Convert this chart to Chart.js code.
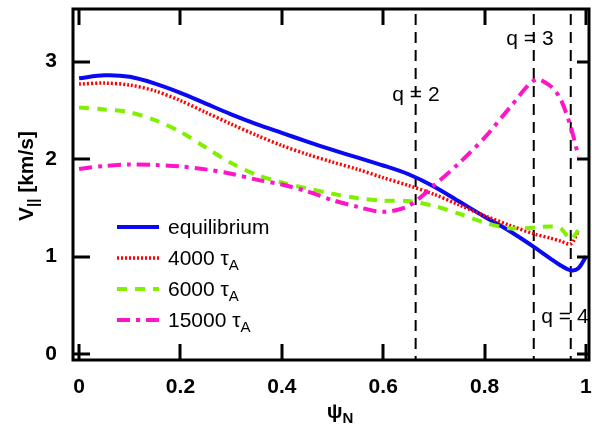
<!DOCTYPE html>
<html lang="en">
<head>
<meta charset="UTF-8" />
<title>Parallel flow profiles</title>
<style>
  html, body { margin: 0; padding: 0; background: #fff; }
  #wrap { width: 592px; height: 433px; }
</style>
</head>
<body>
<div id="wrap"><canvas id="vChart" width="592" height="433"></canvas></div>
<script src="https://cdn.jsdelivr.net/npm/chart.js"></script>
<script>
// normalised flux grid and parallel velocity profiles (km/s)
const psi = [0, 0.05, 0.1, 0.15, 0.2, 0.25, 0.3, 0.35, 0.4, 0.45, 0.5, 0.55,
             0.6, 0.65, 0.7, 0.75, 0.8, 0.85, 0.9, 0.93, 0.95, 0.97, 0.985, 1.0];
const vEquilibrium = [2.83, 2.86, 2.845, 2.775, 2.68, 2.57, 2.46, 2.36, 2.27, 2.18, 2.095, 2.015,
                      1.935, 1.845, 1.72, 1.565, 1.41, 1.26, 1.09, 0.98, 0.91, 0.86, 0.88, 1.0];
const v4000 = [2.77, 2.78, 2.76, 2.70, 2.60, 2.48, 2.36, 2.245, 2.14, 2.05, 1.97, 1.895,
               1.81, 1.73, 1.64, 1.53, 1.42, 1.32, 1.23, 1.19, 1.16, 1.13, 1.26, null];
const v6000 = [2.53, 2.51, 2.48, 2.40, 2.28, 2.12, 1.96, 1.84, 1.76, 1.70, 1.645, 1.60,
               1.575, 1.57, 1.52, 1.44, 1.35, 1.29, 1.30, 1.31, 1.29, 1.18, 1.27, null];
const v15000 = [1.90, 1.93, 1.945, 1.94, 1.925, 1.895, 1.85, 1.79, 1.74, 1.67, 1.58, 1.51,
                1.46, 1.52, 1.73, 1.96, 2.22, 2.53, 2.815, 2.75, 2.615, 2.33, 2.03, null];

// rational surfaces
const qSurfaces = [0.664, 0.897, 0.970];
const qNames = ['q = 2', 'q = 3', 'q = 4'];

const xTicks = [0, 0.2, 0.4, 0.6, 0.8, 1];
const yTicks = [0, 1, 2, 3];

const FONT = '"Liberation Sans", Arial, Helvetica, sans-serif';

function points(vals) {
  return psi.map((x, i) => ({ x: x, y: vals[i] })).filter(p => p.y !== null);
}

const styles = [
  { color: '#0a0af2', width: 4, dash: [] },
  { color: '#ff0000', width: 3.5, dash: [2, 2] },
  { color: '#80f000', width: 4, dash: [10, 8] },
  { color: '#ff14c8', width: 4, dash: [13, 6, 4, 6] }
];
const series = [vEquilibrium, v4000, v6000, v15000];
const names = [['equilibrium'], ['4000 ', 'A'], ['6000 ', 'A'], ['15000 ', 'A']];

const datasets = series.map((vals, i) => ({
  label: names[i][0].trim(),
  data: points(vals),
  borderColor: styles[i].color,
  borderWidth: styles[i].width,
  borderDash: styles[i].dash,
  borderCapStyle: 'butt',
  pointRadius: 0,
  fill: false,
  tension: 0.3,
  order: 4 - i
}));

// dashed verticals at the q surfaces, drawn top-down
qSurfaces.forEach(q => {
  datasets.push({
    label: 'q',
    data: [{ x: q, y: 3.49 }, { x: q, y: -0.06 }],
    borderColor: '#000',
    borderWidth: 2,
    borderDash: [11, 7],
    pointRadius: 0,
    fill: false,
    order: 10
  });
});

// writes a run of text pieces: [text, font, baseline shift]
function drawParts(ctx, parts, x, y, align) {
  let w = 0;
  parts.forEach(p => { ctx.font = p[1]; w += ctx.measureText(p[0]).width; });
  let cx = align === 'center' ? x - w / 2 : (align === 'right' ? x - w : x);
  ctx.textAlign = 'left';
  ctx.textBaseline = 'alphabetic';
  parts.forEach(p => {
    ctx.font = p[1];
    ctx.fillText(p[0], cx, y + (p[2] || 0));
    cx += ctx.measureText(p[0]).width;
  });
}

// fixed axis boxes, no extra room for edge labels
function fixBox(size, key) {
  return s => {
    s[key] = size;
    s.paddingTop = 0; s.paddingBottom = 0;
    s.paddingLeft = 0; s.paddingRight = 0;
  };
}

const framePlugin = {
  id: 'frame',
  afterDraw(chart) {
    const ctx = chart.ctx;
    const a = chart.chartArea;
    const xs = chart.scales.x, ys = chart.scales.y;
    ctx.save();
    ctx.strokeStyle = '#000';
    ctx.lineWidth = 3;
    ctx.setLineDash([]);
    ctx.strokeRect(a.left, a.top, a.right - a.left, a.bottom - a.top);
    ctx.beginPath();
    xTicks.forEach(v => {
      const px = Math.round(xs.getPixelForValue(v));
      ctx.moveTo(px, a.bottom); ctx.lineTo(px, a.bottom - 16);
      ctx.moveTo(px, a.top); ctx.lineTo(px, a.top + 16);
    });
    yTicks.forEach(v => {
      const py = Math.round(ys.getPixelForValue(v));
      ctx.moveTo(a.left, py); ctx.lineTo(a.left + 17, py);
      ctx.moveTo(a.right, py); ctx.lineTo(a.right - 12, py);
    });
    ctx.stroke();

    ctx.fillStyle = '#000';
    // q labels
    const qLabelPos = [[416, 101], [530, 45], [565, 323]];
    qNames.forEach((t, i) => {
      drawParts(ctx, [[t, '21px ' + FONT]], qLabelPos[i][0], qLabelPos[i][1], 'center');
    });

    // legend
    const rows = [227, 258, 289, 320];
    rows.forEach((ry, i) => {
      const s = styles[i];
      ctx.beginPath();
      ctx.strokeStyle = s.color;
      ctx.lineWidth = s.width;
      ctx.lineCap = 'butt';
      ctx.setLineDash(s.dash);
      ctx.moveTo(117, ry); ctx.lineTo(159, ry);
      ctx.stroke();
      ctx.setLineDash([]);
      const n = names[i];
      const parts = [[n[0], '21px ' + FONT]];
      if (n[1]) {
        parts.push(['\u03c4', '21px ' + FONT]);
        parts.push([n[1], '15px ' + FONT, 5]);
      }
      ctx.fillStyle = '#000';
      drawParts(ctx, parts, 168, ry + 7, 'left');
    });

    // axis titles
    drawParts(ctx, [['\u03c8', 'bold 21px ' + FONT], ['N', 'bold 15px ' + FONT, 5]], 340, 418, 'center');
    ctx.save();
    ctx.translate(33, 176);
    ctx.rotate(-Math.PI / 2);
    drawParts(ctx, [['V', 'bold 21px ' + FONT], ['||', 'bold 15px ' + FONT, 5], [' [km/s]', 'bold 21px ' + FONT]], 0, 0, 'center');
    ctx.restore();
    ctx.restore();
  }
};

new Chart(document.getElementById('vChart').getContext('2d'), {
  type: 'line',
  data: { datasets: datasets },
  options: {
    responsive: false,
    animation: false,
    devicePixelRatio: 1,
    layout: { padding: { top: 9, right: 3, left: 0, bottom: 0 } },
    plugins: { legend: { display: false }, tooltip: { enabled: false } },
    scales: {
      x: {
        type: 'linear',
        min: -0.012,
        max: 1.006,
        grid: { display: false },
        border: { display: false },
        afterBuildTicks: s => { s.ticks = xTicks.map(v => ({ value: v })); },
        afterFit: fixBox(73, 'height'),
        ticks: {
          color: '#000',
          padding: 7,
          maxRotation: 0,
          font: { family: FONT, size: 21, weight: 'bold' },
          callback: v => String(v)
        }
      },
      y: {
        type: 'linear',
        min: -0.06,
        max: 3.54,
        grid: { display: false },
        border: { display: false },
        afterBuildTicks: s => { s.ticks = yTicks.map(v => ({ value: v })); },
        afterFit: fixBox(73, 'width'),
        ticks: {
          color: '#000',
          padding: 8,
          font: { family: FONT, size: 21, weight: 'bold' },
          callback: v => String(v)
        }
      }
    }
  },
  plugins: [framePlugin]
});
</script>
</body>
</html>
